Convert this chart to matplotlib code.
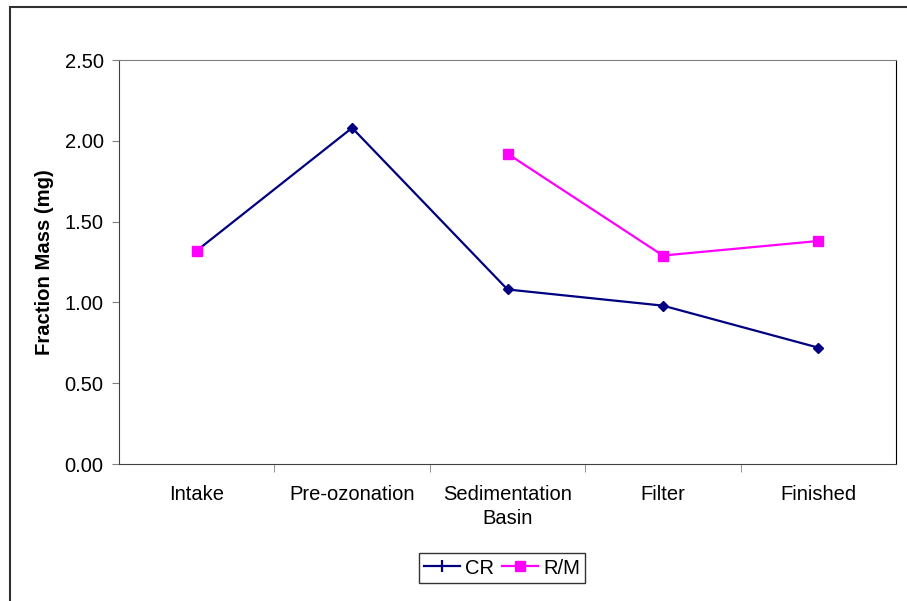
import numpy as np
import matplotlib.pyplot as plt
from matplotlib.patches import Rectangle
from matplotlib.lines import Line2D

plt.rcParams['font.family'] = ['Liberation Sans', 'DejaVu Sans']

stages = ['Intake', 'Pre-ozonation', 'Sedimentation\nBasin', 'Filter', 'Finished']
cr = [1.32, 2.08, 1.08, 0.98, 0.72]
rm = [1.32, np.nan, 1.92, 1.29, 1.38]

fig = plt.figure(figsize=(9.07, 6.01), dpi=100)
ax = fig.add_axes([119 / 907, 1 - 464 / 601, (896 - 119) / 907, (464 - 60) / 601])

x = np.arange(len(stages))
ax.plot(x, cr, color='#000080', lw=1.6, marker='D', ms=5, label='CR', zorder=2)
ax.plot(x, rm, color='#FF00FF', lw=1.6, marker='s', ms=7, label='R/M', zorder=3)

ax.set_xlim(-0.5, len(stages) - 0.5)
ax.set_ylim(0, 2.5)
ax.set_yticks(np.arange(0, 2.51, 0.5))
ax.set_yticklabels(['%.2f' % v for v in np.arange(0, 2.51, 0.5)])
ax.set_xticks(x)
ax.set_xticklabels(stages, linespacing=1.35)
ax.set_xticks(np.arange(0.5, len(stages) - 1, 1), minor=True)
ax.tick_params(axis='x', which='major', length=0, pad=15, labelsize=14.5)
ax.tick_params(axis='x', which='minor', length=6, direction='out', color='#808080')
ax.tick_params(axis='y', length=5, direction='out', labelsize=14.5, color='#808080', pad=6)
for s in ['left', 'bottom']:
    ax.spines[s].set_color('#404040')
ax.spines['top'].set_color('#808080')
ax.spines['right'].set_color('black')
ax.set_ylabel('Fraction Mass (mg)', fontsize=14.6, fontweight='bold', labelpad=8)

handles = [Line2D([], [], color='#000080', lw=1.6, marker='|', ms=9, mew=1.6),
           Line2D([], [], color='#FF00FF', lw=1.6, marker='s', ms=7)]
leg = fig.legend(handles, ['CR', 'R/M'], loc='center', bbox_to_anchor=(502 / 907, 1 - 568 / 601),
                 ncol=2, frameon=True, fancybox=False, fontsize=14.5, handlelength=1.8,
                 columnspacing=0.4, handletextpad=0.25, borderpad=0.25, borderaxespad=0)
leg.get_frame().set_edgecolor('black')
leg.get_frame().set_linewidth(1.0)

fig.patches.append(Rectangle((10 / 907, -0.1), 1.2, 1 - 7 / 601 + 0.1, transform=fig.transFigure,
                             fill=False, edgecolor='#303030', lw=1.5))

fig.savefig('out.png', dpi=100)
